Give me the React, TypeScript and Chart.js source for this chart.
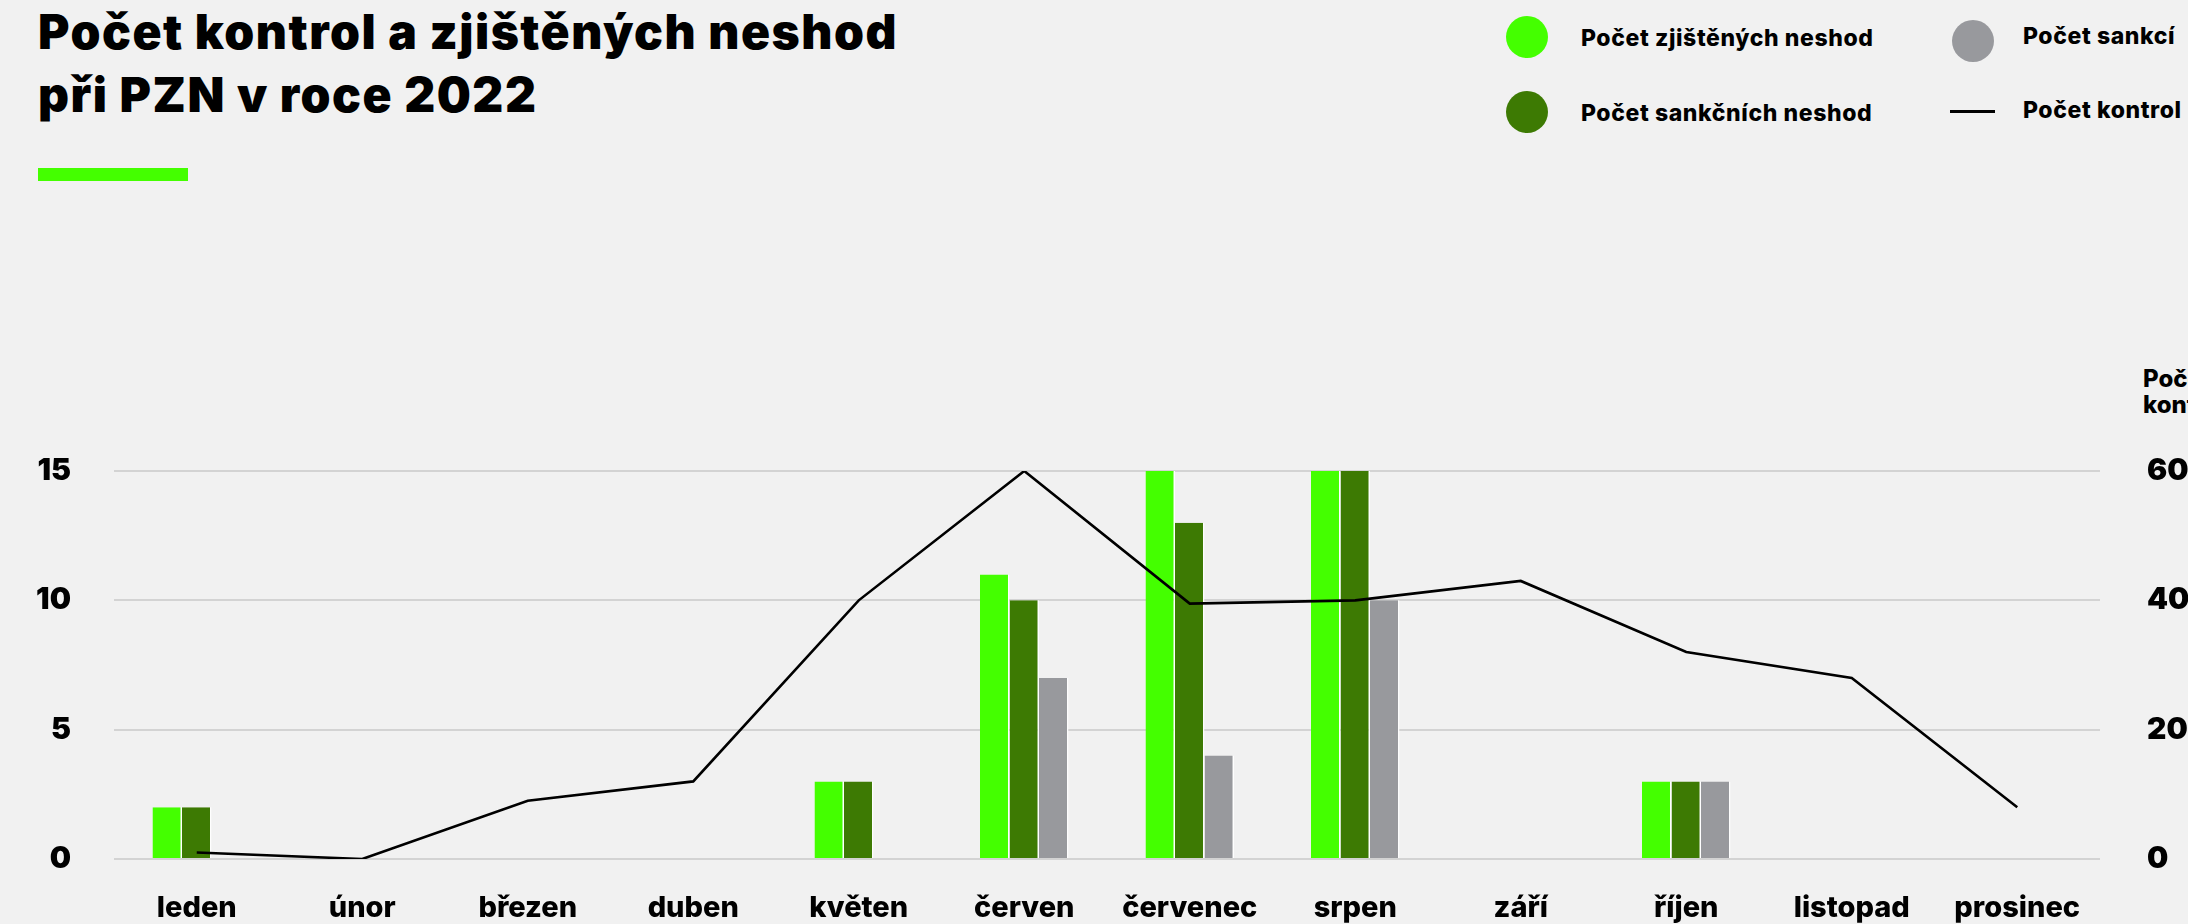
import React, { useEffect, useRef } from "react";
import { Chart, registerables } from "chart.js";

Chart.register(...registerables);

const months = ["leden", "únor", "březen", "duben", "květen", "červen", "červenec", "srpen", "září", "říjen", "listopad", "prosinec"];
const zjisteneNeshody = [2, 0, 0, 0, 3, 11, 15, 15, 0, 3, 0, 0];
const sankcniNeshody = [2, 0, 0, 0, 3, 10, 13, 15, 0, 3, 0, 0];
const sankce = [0, 0, 0, 0, 0, 7, 4, 10, 0, 3, 0, 0];
const kontroly = [1, 0, 9, 12, 40, 60, 39.5, 40, 43, 32, 28, 8];
const leftTicks = [0, 5, 10, 15];
const rightTicks = [0, 20, 40, 60];

const LIGHT = "#44ff00";
const DARK = "#3d7a03";
const GRAY = "#98999d";
const BG = "#f1f1f1";

const TICK_FONT = "Inter, 'Noto Sans', sans-serif";

export default function App() {
  const ref = useRef<HTMLCanvasElement | null>(null);

  useEffect(() => {
    const prevMargin = document.body.style.margin;
    document.body.style.margin = "0";
    if (!ref.current) return;
    const barCommon = {
      type: "bar" as const,
      yAxisID: "y",
      categoryPercentage: 0.535,
      barPercentage: 1,
      borderColor: "#ffffff",
      borderWidth: { left: 0, right: 1.5, top: 0, bottom: 0 },
      borderSkipped: false as const,
      order: 2,
    };
    const chart = new Chart(ref.current, {
      type: "bar",
      data: {
        labels: months,
        datasets: [
          { ...barCommon, label: "Počet zjištěných neshod", data: zjisteneNeshody, backgroundColor: LIGHT },
          { ...barCommon, label: "Počet sankčních neshod", data: sankcniNeshody, backgroundColor: DARK },
          { ...barCommon, label: "Počet sankcí", data: sankce, backgroundColor: GRAY },
          {
            type: "line" as const,
            label: "Počet kontrol",
            data: kontroly,
            yAxisID: "y1",
            borderColor: "#000000",
            borderWidth: 2.6,
            pointRadius: 0,
            tension: 0,
            order: 0,
          } as any,
        ],
      },
      options: {
        responsive: false,
        maintainAspectRatio: false,
        animation: false,
        layout: { padding: { top: 471, left: 0, right: 0, bottom: 0 } },
        plugins: { legend: { display: false }, tooltip: { enabled: false }, title: { display: false } },
        scales: {
          x: {
            grid: { display: false, drawTicks: false },
            border: { display: false },
            ticks: {
              color: "#000",
              padding: 32,
              maxRotation: 0,
              autoSkip: false,
              font: { family: TICK_FONT, size: 29, weight: "800" as any },
            },
            afterFit: (s: any) => { s.height = 64; },
          },
          y: {
            position: "left",
            min: 0,
            max: 15,
            afterBuildTicks: (s: any) => { s.ticks = leftTicks.map((v) => ({ value: v })); },
            grid: { color: "#d3d3d3", lineWidth: 2, drawTicks: false },
            border: { display: false },
            ticks: {
              color: "#000",
              padding: 43,
              font: { family: TICK_FONT, size: 30, weight: "900" as any },
            },
            afterFit: (s: any) => { s.width = 114; },
          },
          y1: {
            position: "right",
            min: 0,
            max: 60,
            afterBuildTicks: (s: any) => { s.ticks = rightTicks.map((v) => ({ value: v })); },
            grid: { display: false, drawTicks: false },
            border: { display: false },
            ticks: {
              color: "#000",
              padding: 47,
              font: { family: TICK_FONT, size: 30, weight: "900" as any },
            },
            afterFit: (s: any) => { s.width = 88; },
          },
        },
      },
    });
    return () => {
      chart.destroy();
      document.body.style.margin = prevMargin;
    };
  }, []);

  const legendText: React.CSSProperties = {
    position: "absolute",
    fontFamily: "Inter, 'Noto Sans', sans-serif",
    fontWeight: 800,
    fontSize: 23,
    letterSpacing: "0.6px",
    lineHeight: "23px",
    whiteSpace: "nowrap",
    color: "#000",
  };
  const circle = (cx: number, cy: number, color: string): React.CSSProperties => ({
    position: "absolute",
    left: cx - 21,
    top: cy - 21,
    width: 42,
    height: 42,
    borderRadius: "50%",
    background: color,
  });

  return (
    <div style={{ position: "fixed", left: 0, top: 0, width: 2188, height: 924, background: BG, overflow: "hidden" }}>
      <div
        style={{
          position: "absolute",
          left: 38,
          top: 0,
          fontFamily: "Inter, 'Noto Sans', sans-serif",
          fontWeight: 900,
          fontSize: 48,
          lineHeight: "63px",
          letterSpacing: "1.5px",
          color: "#000",
          whiteSpace: "nowrap",
        }}
      >
        <div>Počet kontrol a zjištěných neshod</div>
        <div>při PZN v roce 2022</div>
      </div>
      <div style={{ position: "absolute", left: 38, top: 168, width: 150, height: 13, background: LIGHT }} />

      <div style={circle(1527, 36.5, LIGHT)} />
      <div style={{ ...legendText, left: 1581, top: 26.5 }}>Počet zjištěných neshod</div>
      <div style={circle(1527, 112.3, DARK)} />
      <div style={{ ...legendText, left: 1581, top: 102 }}>Počet sankčních neshod</div>
      <div style={circle(1973, 41, GRAY)} />
      <div style={{ ...legendText, left: 2023, top: 25 }}>Počet sankcí</div>
      <div style={{ position: "absolute", left: 1950, top: 110, width: 45, height: 3, background: "#000" }} />
      <div style={{ ...legendText, left: 2023, top: 99 }}>Počet kontrol</div>

      <div
        style={{
          position: "absolute",
          left: 2143,
          top: 366,
          fontFamily: "Inter, 'Noto Sans', sans-serif",
          fontWeight: 800,
          fontSize: 24,
          lineHeight: "26px",
          color: "#000",
          whiteSpace: "nowrap",
        }}
      >
        <div>Počet</div>
        <div>kontrol</div>
      </div>

      <canvas ref={ref} width={2188} height={924} style={{ position: "absolute", left: 0, top: 0, width: 2188, height: 924 }} />
    </div>
  );
}
